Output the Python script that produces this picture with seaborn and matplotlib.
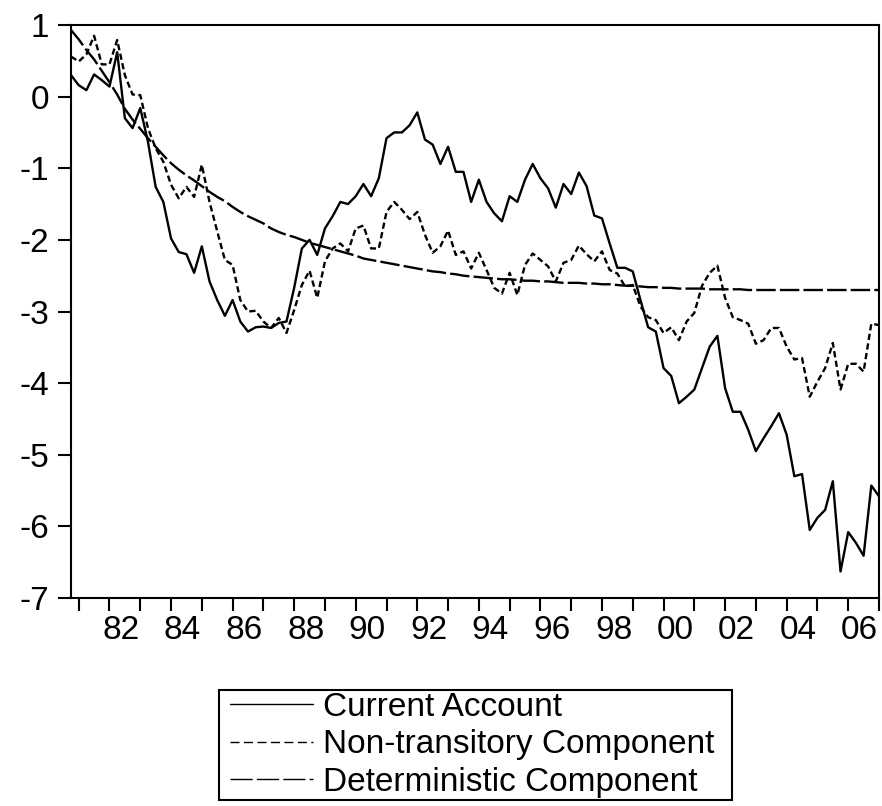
import matplotlib
matplotlib.use('Agg')
import matplotlib.pyplot as plt
from matplotlib.lines import Line2D
from matplotlib.legend_handler import HandlerLine2D
import seaborn as sns
import numpy as np
import pandas as pd

# quarterly observations, 1980Q4 - 2007Q1
quarters = pd.period_range('1980Q4', '2007Q1', freq='Q')
t = np.asarray(quarters.year + (quarters.quarter - 1) / 4.0, dtype=float)

current_account = [
    0.30, 0.16, 0.09, 0.31, 0.23, 0.14, 0.62, -0.30, -0.44, -0.16,
    -0.63, -1.26, -1.47, -1.98, -2.17, -2.20, -2.46, -2.09, -2.58, -2.84,
    -3.06, -2.84, -3.14, -3.28, -3.22, -3.21, -3.23, -3.16, -3.14, -2.67,
    -2.12, -2.00, -2.21, -1.84, -1.67, -1.47, -1.50, -1.39, -1.22, -1.39,
    -1.14, -0.58, -0.50, -0.50, -0.40, -0.22, -0.60, -0.67, -0.94, -0.70,
    -1.05, -1.05, -1.47, -1.16, -1.47, -1.63, -1.74, -1.39, -1.47, -1.16,
    -0.94, -1.14, -1.28, -1.55, -1.22, -1.36, -1.06, -1.25, -1.66, -1.70,
    -2.05, -2.39, -2.39, -2.44, -2.84, -3.22, -3.28, -3.79, -3.90, -4.28,
    -4.19, -4.09, -3.79, -3.49, -3.34, -4.07, -4.40, -4.40, -4.65, -4.95,
    -4.77, -4.60, -4.42, -4.72, -5.30, -5.27, -6.05, -5.88, -5.77, -5.37,
    -6.63, -6.08, -6.23, -6.41, -5.43, -5.58]

non_transitory = [
    0.56, 0.49, 0.59, 0.85, 0.45, 0.45, 0.79, 0.30, 0.03, 0.02,
    -0.44, -0.72, -0.91, -1.23, -1.42, -1.26, -1.40, -0.95, -1.47, -1.88,
    -2.28, -2.35, -2.84, -3.00, -2.99, -3.14, -3.23, -3.09, -3.30, -2.98,
    -2.63, -2.43, -2.81, -2.30, -2.12, -2.05, -2.16, -1.84, -1.80, -2.12,
    -2.12, -1.61, -1.47, -1.58, -1.71, -1.61, -1.93, -2.18, -2.09, -1.87,
    -2.21, -2.16, -2.40, -2.18, -2.42, -2.67, -2.75, -2.46, -2.77, -2.35,
    -2.19, -2.28, -2.37, -2.58, -2.32, -2.28, -2.08, -2.20, -2.30, -2.16,
    -2.42, -2.47, -2.65, -2.63, -2.93, -3.08, -3.12, -3.30, -3.22, -3.40,
    -3.14, -3.02, -2.64, -2.46, -2.36, -2.81, -3.08, -3.12, -3.17, -3.45,
    -3.40, -3.23, -3.23, -3.49, -3.67, -3.65, -4.19, -3.98, -3.79, -3.44,
    -4.09, -3.73, -3.73, -3.84, -3.17, -3.19]

deterministic = [
    0.93, 0.80, 0.65, 0.52, 0.36, 0.20, 0.03, -0.17, -0.32, -0.45,
    -0.58, -0.70, -0.82, -0.93, -1.02, -1.10, -1.17, -1.25, -1.33, -1.40,
    -1.46, -1.54, -1.61, -1.67, -1.72, -1.77, -1.84, -1.89, -1.93, -1.96,
    -2.00, -2.04, -2.07, -2.10, -2.13, -2.16, -2.19, -2.22, -2.26, -2.28,
    -2.30, -2.32, -2.34, -2.36, -2.38, -2.40, -2.42, -2.44, -2.45, -2.47,
    -2.48, -2.50, -2.51, -2.52, -2.53, -2.54, -2.55, -2.55, -2.56, -2.57,
    -2.57, -2.58, -2.58, -2.59, -2.60, -2.60, -2.60, -2.61, -2.61, -2.62,
    -2.62, -2.63, -2.64, -2.64, -2.65, -2.66, -2.66, -2.67, -2.67, -2.68,
    -2.68, -2.68, -2.68, -2.69, -2.69, -2.69, -2.69, -2.69, -2.70, -2.70,
    -2.70, -2.70, -2.70, -2.70, -2.70, -2.70, -2.70, -2.70, -2.70, -2.70,
    -2.70, -2.70, -2.70, -2.70, -2.70, -2.70]

series_names = ['Current Account', 'Non-transitory Component', 'Deterministic Component']
year_ticks = list(range(1981, 2008))
label_years = list(range(1982, 2007, 2))
label_text = [f"{y % 100:02d}" for y in label_years]
y_ticks = list(range(-7, 2))

sns.set_style('ticks')
plt.rcParams['font.family'] = ['Liberation Sans', 'DejaVu Sans']
plt.rcParams['lines.scale_dashes'] = False
plt.rcParams['text.color'] = 'black'

styles = ['-', (0, (4.5, 2.5)), (0, (14, 3))]
legend_styles = ['-', (0, (6.5, 3.2)), (0, (16, 3))]
fs = 24

fig = plt.figure(figsize=(8.82, 8.06), dpi=100)
ax = fig.add_axes([71/882, 1 - 598/806, 808/882, 573/806])

for vals, ls in zip([current_account, non_transitory, deterministic], styles):
    sns.lineplot(x=t, y=vals, ax=ax, color='black', linewidth=1.7,
                 linestyle=ls, legend=False)

ax.set_xlim(t[0], t[-1])
ax.set_ylim(-7, 1)
ax.set_yticks(y_ticks)
ax.set_yticklabels([str(v) for v in y_ticks])
ax.set_xticks(year_ticks)
ax.set_xticklabels([''] * len(year_ticks))
ax.set_xticks([y + 0.375 for y in label_years], minor=True)
ax.set_xticklabels(label_text, minor=True)
ax.tick_params(axis='both', which='major', direction='out', length=9.5,
               width=1.5, color='black', labelcolor='black', labelsize=fs, pad=6)
ax.tick_params(axis='x', which='minor', length=0, labelsize=fs,
               labelcolor='black', pad=12)
ax.set_xlabel('')
ax.set_ylabel('')
for sp in ax.spines.values():
    sp.set_visible(True)
    sp.set_linewidth(1.5)
    sp.set_color('black')

handles = [Line2D([], [], color='black', linewidth=1.0, linestyle=ls)
           for ls in legend_styles]
leg = fig.legend(handles, series_names, loc='upper center',
                 bbox_to_anchor=(219/882, 1 - 802/806, 513/882, 112/806),
                 mode='expand', fontsize=fs, frameon=True, fancybox=False,
                 framealpha=1, edgecolor='black', handlelength=2.75,
                 handletextpad=0.3, labelspacing=0.19, borderpad=0.06,
                 borderaxespad=0,
                 handler_map={Line2D: HandlerLine2D(xpad=0.28)})
leg.get_frame().set_linewidth(1.5)
for txt in leg.get_texts():
    txt.set_color('black')

fig.savefig('out.png', dpi=100)
